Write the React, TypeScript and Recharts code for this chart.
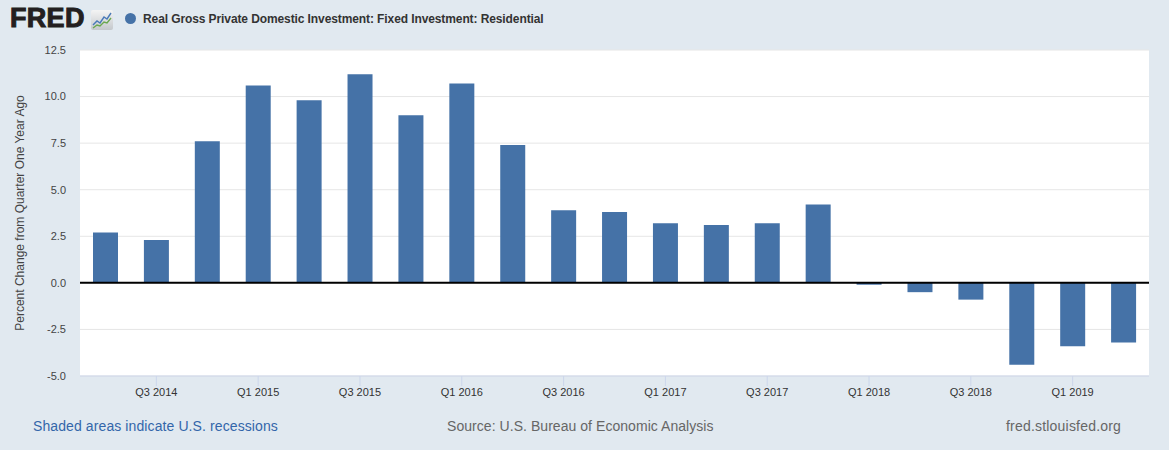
import React from "react";
import {
  BarChart, Bar, XAxis, YAxis, CartesianGrid, ReferenceLine,
} from "recharts";

const QUARTERS = [
  "Q2 2014", "Q3 2014", "Q4 2014",
  "Q1 2015", "Q2 2015", "Q3 2015", "Q4 2015",
  "Q1 2016", "Q2 2016", "Q3 2016", "Q4 2016",
  "Q1 2017", "Q2 2017", "Q3 2017", "Q4 2017",
  "Q1 2018", "Q2 2018", "Q3 2018", "Q4 2018",
  "Q1 2019", "Q2 2019",
];

const PCT_CHANGE = [
  2.7, 2.3, 7.6,
  10.6, 9.8, 11.2, 9.0,
  10.7, 7.4, 3.9, 3.8,
  3.2, 3.1, 3.2, 4.2,
  -0.1, -0.5, -0.9, -4.4,
  -3.4, -3.2,
];

const X_TICKS = ["Q3 2014", "Q1 2015", "Q3 2015", "Q1 2016", "Q3 2016", "Q1 2017", "Q3 2017", "Q1 2018", "Q3 2018", "Q1 2019"];
const Y_TICKS = [-5, -2.5, 0, 2.5, 5, 7.5, 10, 12.5];

const BLUE = "#4572a7";
const BG = "#e1e9f0";
const FONT = "'Liberation Sans', Arial, sans-serif";

const data = QUARTERS.map((q, i) => ({ quarter: q, value: PCT_CHANGE[i] }));

function FredIcon() {
  return (
    <svg width="22" height="20" style={{ position: "absolute", left: 91, top: 10 }}>
      <defs>
        <linearGradient id="ig" x1="0" y1="0" x2="0" y2="1">
          <stop offset="0" stopColor="#f4f4f4" />
          <stop offset="1" stopColor="#c4c8cc" />
        </linearGradient>
      </defs>
      <rect x="0" y="0" width="22" height="20" rx="2" fill="url(#ig)" />
      <polyline points="2,15 6,11 9,13 13,7 16,9 20,3" fill="none" stroke="#4a7ab8" strokeWidth="1.4" />
      <polyline points="2,18 6,15 9,16 13,12 16,13 20,8" fill="none" stroke="#6aa84f" strokeWidth="1.4" />
    </svg>
  );
}

export default function App() {
  return (
    <div style={{ position: "relative", width: 1169, height: 450, background: BG, fontFamily: FONT, overflow: "hidden" }}>
      <style>{"body{margin:0}"}</style>

      {/* header */}
      <div style={{ position: "absolute", left: 10, top: 2, fontSize: 27, fontWeight: 900, color: "#231f20", letterSpacing: 0.3, lineHeight: "32px", WebkitTextStroke: "1px #231f20" }}>
        FRED
      </div>
      <FredIcon />
      <div style={{ position: "absolute", left: 125, top: 13, width: 11, height: 11, borderRadius: "50%", background: BLUE }} />
      <div style={{ position: "absolute", left: 143, top: 11, fontSize: 12, fontWeight: 700, color: "#333", letterSpacing: -0.1, lineHeight: "16px" }}>
        Real Gross Private Domestic Investment: Fixed Investment: Residential
      </div>

      <div style={{ position: "absolute", left: 0, top: 0 }}>
        <BarChart width={1169} height={450} data={data} margin={{ top: 50, right: 20, bottom: 44, left: 20 }} barSize={25}>
          <CartesianGrid vertical={false} stroke="#e6e6e6" fill="#ffffff" />
          <XAxis
            dataKey="quarter"
            ticks={X_TICKS}
            interval={0}
            tickSize={10}
            height={30}
            stroke="#ccd6eb"
            tick={{ fill: "#333", fontSize: 11, fontFamily: FONT }}
          />
          <YAxis
            domain={[-5, 12.5]}
            ticks={Y_TICKS}
            width={60}
            axisLine={false}
            tickLine={false}
            tickSize={0}
            tickMargin={14}
            tickFormatter={(v: number) => v.toFixed(1)}
            tick={{ fill: "#444", fontSize: 11, fontFamily: FONT }}
            label={{
              value: "Percent Change from Quarter One Year Ago",
              angle: -90,
              position: "insideLeft",
              offset: 0,
              fill: "#444",
              fontSize: 12,
              fontFamily: FONT,
              style: { textAnchor: "middle" },
            }}
          />
          <Bar dataKey="value" fill={BLUE} isAnimationActive={false} />
          <ReferenceLine y={0} stroke="#000" strokeWidth={2} />
        </BarChart>
      </div>

      {/* footer */}
      <div style={{ position: "absolute", left: 33, top: 417, fontSize: 14, color: "#3366aa", lineHeight: "18px", letterSpacing: 0.1 }}>
        Shaded areas indicate U.S. recessions
      </div>
      <div style={{ position: "absolute", left: 447, top: 417, fontSize: 14, color: "#666", lineHeight: "18px", letterSpacing: 0.05 }}>
        Source: U.S. Bureau of Economic Analysis
      </div>
      <div style={{ position: "absolute", left: 1006, top: 417, fontSize: 14, color: "#666", lineHeight: "18px", letterSpacing: 0.2 }}>
        fred.stlouisfed.org
      </div>
    </div>
  );
}
